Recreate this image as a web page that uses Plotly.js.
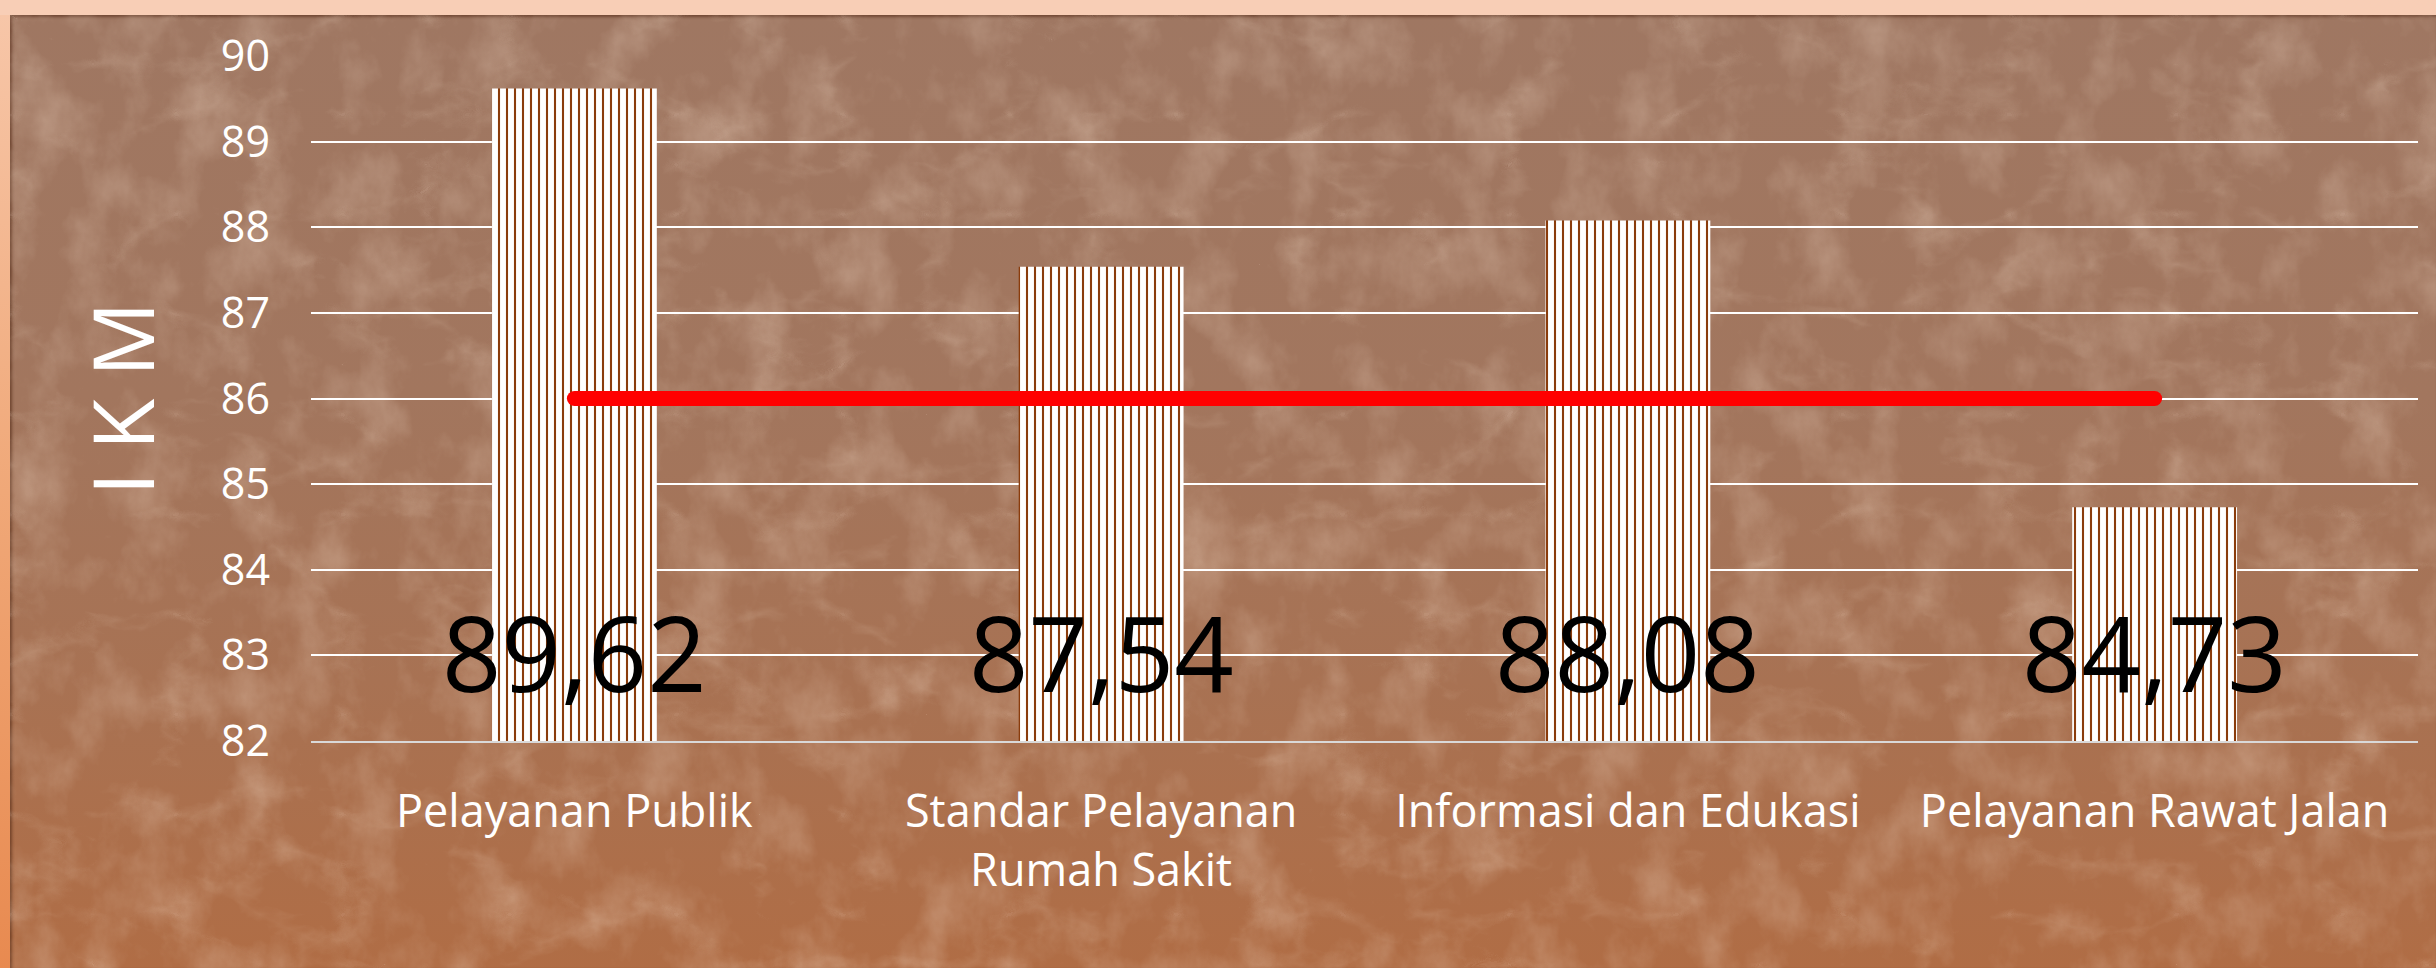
<!DOCTYPE html>
<html>
<head>
<meta charset="utf-8">
<script src="https://cdn.plot.ly/plotly-3.0.1.min.js"></script>
<style>
  html, body { margin: 0; padding: 0; width: 2436px; height: 968px; overflow: hidden; }
  body { background: #f8ceb6; position: relative; }
  #strip { position: absolute; left: 0; top: 15px; width: 10px; bottom: 0;
    background: linear-gradient(to bottom, #f7c6a8 0%, #f0a878 50%, #e88a50 100%); }
  #bg { position: absolute; left: 10px; top: 15px; right: 0; bottom: 0;
    background: linear-gradient(to bottom, #9f7762 0%, #a2765e 40%, #a87253 70%, #b06d45 100%);
    box-shadow: inset 2px 2px 3px rgba(80,40,20,0.6); }
  .tex { position: absolute; left: 10px; top: 15px; }
  #chart { position: absolute; left: 0; top: 0; width: 2436px; height: 968px; }
</style>
</head>
<body>
<div id="strip"></div>
<div id="bg"></div>
<svg class="tex" width="2426" height="953" style="opacity:0.42">
  <filter id="m" x="0" y="0" width="100%" height="100%">
    <feTurbulence type="fractalNoise" baseFrequency="0.018 0.014" numOctaves="5" seed="3"/>
    <feColorMatrix type="matrix" values="0 0 0 0 0.86  0 0 0 0 0.68  0 0 0 0 0.55  1.6 0 0 0 -0.72"/>
  </filter>
  <rect width="100%" height="100%" filter="url(#m)"/>
</svg>
<svg class="tex" width="2426" height="953" style="opacity:0.35">
  <filter id="f" x="0" y="0" width="100%" height="100%">
    <feTurbulence type="turbulence" baseFrequency="0.006 0.01" numOctaves="5" seed="7"/>
    <feColorMatrix type="matrix" values="0 0 0 0 0.90  0 0 0 0 0.74  0 0 0 0 0.60  -2.2 0 0 0 0.45"/>
  </filter>
  <rect width="100%" height="100%" filter="url(#f)"/>
</svg>
<div id="chart"></div>
<script>
const categories = ['Pelayanan Publik', 'Standar Pelayanan<br>Rumah Sakit', 'Informasi dan Edukasi', 'Pelayanan Rawat Jalan'];
const ikmValues = [89.62, 87.54, 88.08, 84.73];
const targetValues = [86, 86, 86, 86];
const yTickValues = [82, 83, 84, 85, 86, 87, 88, 89, 90];
const yAxisTitle = 'I K M';

const fontFamily = '"Open Sans", "Lato", sans-serif';

const barTrace = {
  type: 'bar',
  x: categories,
  y: ikmValues,
  marker: {
    color: '#ffffff',
    line: { width: 0 },
    pattern: { shape: '|', fillmode: 'overlay', bgcolor: '#ffffff', fgcolor: '#8a3c0c', fgopacity: 1, size: 8, solidity: 0.26 }
  },
  hoverinfo: 'skip',
  showlegend: false
};

const lineTrace = {
  type: 'scatter',
  mode: 'lines+markers',
  x: categories,
  y: targetValues,
  line: { color: '#ff0000', width: 15 },
  marker: { color: '#ff0000', size: 15 },
  hoverinfo: 'skip',
  showlegend: false
};

const annotations = categories.map((c, i) => ({
  x: c,
  y: 82,
  xref: 'x',
  yref: 'y',
  text: ikmValues[i].toFixed(2).replace('.', ','),
  showarrow: false,
  yanchor: 'bottom',
  yshift: 17,
  font: { family: fontFamily, size: 104, color: '#000000' }
}));

const layout = {
  width: 2436,
  height: 968,
  margin: { l: 311, r: 18, t: 56, b: 227 },
  paper_bgcolor: 'rgba(0,0,0,0)',
  plot_bgcolor: 'rgba(0,0,0,0)',
  bargap: 0.687,
  font: { family: fontFamily, color: '#ffffff' },
  xaxis: {
    type: 'category',
    tickfont: { family: fontFamily, size: 45, color: '#ffffff' },
    ticks: '',
    showgrid: false,
    showline: true,
    linecolor: '#d9d9d9',
    linewidth: 2,
    ticklabelstandoff: 30,
    fixedrange: true
  },
  yaxis: {
    range: [82, 90],
    tickvals: yTickValues,
    ticktext: yTickValues.map(String),
    tickfont: { family: fontFamily, size: 43, color: '#ffffff' },
    ticks: '',
    showgrid: true,
    gridcolor: '#ffffff',
    gridwidth: 2,
    zeroline: false,
    showline: false,
    ticklabelstandoff: 40,
    title: { text: yAxisTitle, font: { family: fontFamily, size: 84, color: '#ffffff' }, standoff: 38 },
    fixedrange: true
  },
  annotations: annotations
};

Plotly.newPlot('chart', [barTrace, lineTrace], layout, { staticPlot: true, displayModeBar: false });
</script>
</body>
</html>
